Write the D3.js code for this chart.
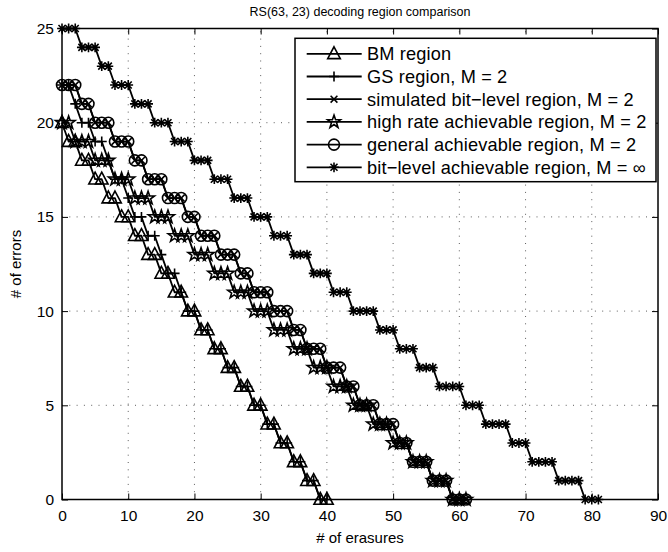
<!DOCTYPE html>
<html>
<head>
<meta charset="utf-8">
<script src="https://cdn.jsdelivr.net/npm/d3@7"></script>
<style>
  html, body { margin: 0; padding: 0; background: #fff; }
  svg text { font-family: "Liberation Sans", Arial, Helvetica, sans-serif; fill: #000; }
</style>
</head>
<body>
<svg id="chart" width="668" height="552"></svg>
<script>
// ---- data (errors at erasures = 0, 1, 2, ...) ----
const xTicks = [0, 10, 20, 30, 40, 50, 60, 70, 80, 90];
const yTicks = [0, 5, 10, 15, 20, 25];

const bmErrors = [20,19,19,18,18,17,17,16,16,15,15,14,14,13,13,12,12,11,11,10,10,9,9,8,8,7,7,6,6,5,5,4,4,3,3,2,2,1,1,0,0];
const gsErrors = [22,22,21,20,20,19,19,18,17,17,16,15,15,14,14,13,12,12,11,10,10,9,9,8,8,7,7,6,6,5,5,4,4,3,3,2,2,1,1,0,0];
const simulatedErrors = [22,22,22,21,21,20,20,20,19,19,19,18,18,17,17,17,16,16,16,15,15,14,14,14,13,13,13,12,12,11,11,11,10,10,10,9,9,8,8,8,7,7,7,6,6,5,5,5,4,4,4,3,3,2,2,2,1,1,1,0,0,0];
const highRateErrors = [20,20,19,19,19,18,18,18,17,17,17,16,16,16,15,15,15,14,14,14,13,13,13,12,12,12,11,11,11,10,10,10,9,9,9,8,8,8,7,7,7,6,6,6,5,5,5,4,4,4,3,3,3,2,2,2,1,1,1,0,0,0];
const generalErrors = [22,22,22,21,21,20,20,20,19,19,19,18,18,17,17,17,16,16,16,15,15,14,14,14,13,13,13,12,12,11,11,11,10,10,10,9,9,8,8,8,7,7,7,6,6,5,5,5,4,4,4,3,3,2,2,2,1,1,1,0,0,0];
const bitLevelErrors = [25,25,25,24,24,24,23,23,22,22,22,21,21,21,20,20,20,19,19,19,18,18,18,17,17,17,16,16,16,15,15,15,14,14,14,13,13,13,12,12,12,11,11,11,10,10,10,10,9,9,9,8,8,8,7,7,7,6,6,6,6,5,5,5,4,4,4,4,3,3,3,2,2,2,2,1,1,1,1,0,0,0];

const seriesNames = [
  "BM region",
  "GS region, M = 2",
  "simulated bit\u2212level region, M = 2",
  "high rate achievable region, M = 2",
  "general achievable region, M = 2",
  "bit\u2212level achievable region, M = \u221e"
];
const seriesValues = [bmErrors, gsErrors, simulatedErrors, highRateErrors, generalErrors, bitLevelErrors];
const seriesMarkers = ["triangle", "plus", "cross", "star", "circle", "asterisk"];

// ---- layout ----
const svg = d3.select("#chart");
const L = 62, R = 658, T = 28.5, B = 499.5;
const x = d3.scaleLinear().domain([0, 90]).range([L, R]);
const y = d3.scaleLinear().domain([0, 25]).range([B, T]);

// ---- marker paths ----
function markerPath(type) {
  const p = d3.path();
  if (type === "triangle") {
    p.moveTo(0, -7); p.lineTo(6.3, 4.8); p.lineTo(-6.3, 4.8); p.closePath();
  } else if (type === "plus") {
    p.moveTo(-5, 0); p.lineTo(5, 0); p.moveTo(0, -5); p.lineTo(0, 5);
  } else if (type === "cross") {
    p.moveTo(-3.4, -3.4); p.lineTo(3.4, 3.4); p.moveTo(-3.4, 3.4); p.lineTo(3.4, -3.4);
  } else if (type === "star") {
    const ro = 6.8, ri = 2.7;
    for (let i = 0; i < 10; i++) {
      const r = i % 2 === 0 ? ro : ri;
      const a = -Math.PI / 2 + i * Math.PI / 5;
      const px = r * Math.cos(a), py = r * Math.sin(a);
      if (i === 0) p.moveTo(px, py); else p.lineTo(px, py);
    }
    p.closePath();
  } else if (type === "circle") {
    p.moveTo(5.5, 0); p.arc(0, 0, 5.5, 0, 2 * Math.PI);
  } else if (type === "asterisk") {
    const r = 4.9, d = 3.5;
    p.moveTo(-r, 0); p.lineTo(r, 0); p.moveTo(0, -r); p.lineTo(0, r);
    p.moveTo(-d, -d); p.lineTo(d, d); p.moveTo(-d, d); p.lineTo(d, -d);
  }
  return p.toString();
}

// ---- grid ----
const grid = svg.append("g").attr("stroke", "#333").attr("stroke-width", 0.8)
  .attr("stroke-dasharray", "1,6.3");
xTicks.slice(1, -1).forEach(t => {
  grid.append("line").attr("x1", x(t)).attr("x2", x(t)).attr("y1", B).attr("y2", T);
});
yTicks.slice(1, -1).forEach(t => {
  grid.append("line").attr("x1", L).attr("x2", R).attr("y1", y(t)).attr("y2", y(t));
});

// ---- axes (MATLAB style: inward ticks all sides) ----
const tickLen = 6;
const axB = svg.append("g").attr("transform", `translate(0,${B})`)
  .call(d3.axisBottom(x).tickValues(xTicks).tickSizeInner(-tickLen).tickSizeOuter(0).tickPadding(10));
const axT = svg.append("g").attr("transform", `translate(0,${T})`)
  .call(d3.axisTop(x).tickValues(xTicks).tickSizeInner(-tickLen).tickSizeOuter(0).tickFormat(""));
const axL = svg.append("g").attr("transform", `translate(${L},0)`)
  .call(d3.axisLeft(y).tickValues(yTicks).tickSizeInner(-tickLen).tickSizeOuter(0).tickPadding(8));
const axR = svg.append("g").attr("transform", `translate(${R},0)`)
  .call(d3.axisRight(y).tickValues(yTicks).tickSizeInner(-tickLen).tickSizeOuter(0).tickFormat(""));
[axB, axT, axL, axR].forEach(g => {
  g.select(".domain").remove();
  g.selectAll("line").attr("stroke", "#000").attr("stroke-width", 1);
  g.selectAll("text").attr("font-size", 15.5).attr("font-family", "Liberation Sans, Arial, sans-serif").attr("fill", "#000");
});
axB.selectAll("text").attr("dy", "0.71em");

// ---- series ----
const line = d3.line().x((d, i) => x(i)).y(d => y(d));
seriesValues.forEach((vals, k) => {
  const g = svg.append("g");
  g.append("path").datum(vals).attr("d", line)
    .attr("fill", "none").attr("stroke", "#000").attr("stroke-width", 1.8).attr("stroke-linejoin", "round");
  const mp = markerPath(seriesMarkers[k]);
  g.selectAll("path.m").data(vals).enter().append("path").attr("class", "m")
    .attr("d", mp)
    .attr("transform", (d, i) => `translate(${x(i)},${y(d)})`)
    .attr("fill", "none").attr("stroke", "#000").attr("stroke-width", 1.6);
});

// ---- box ----
svg.append("rect").attr("x", L).attr("y", T).attr("width", R - L).attr("height", B - T)
  .attr("fill", "none").attr("stroke", "#000").attr("stroke-width", 1.5);

// ---- labels ----
svg.append("text").attr("x", (L + R) / 2).attr("y", 16).attr("text-anchor", "middle")
  .attr("font-size", 12.5).text("RS(63, 23) decoding region comparison");
svg.append("text").attr("x", (L + R) / 2).attr("y", 543).attr("text-anchor", "middle")
  .attr("font-size", 15).text("# of erasures");
svg.append("text").attr("transform", `translate(21,${(T + B) / 2}) rotate(-90)`)
  .attr("text-anchor", "middle").attr("font-size", 15).text("# of errors");

// ---- legend ----
const lg = svg.append("g");
const lgX = 295, lgY = 38.3, lgW = 361, lgH = 143.4, rowH = 22.7;
lg.append("rect").attr("x", lgX).attr("y", lgY).attr("width", lgW).attr("height", lgH)
  .attr("fill", "#fff").attr("stroke", "#000").attr("stroke-width", 1.5);
seriesNames.forEach((name, k) => {
  const cy = lgY + 15.5 + k * rowH;
  lg.append("line").attr("x1", 306.7).attr("x2", 361.7).attr("y1", cy).attr("y2", cy)
    .attr("stroke", "#000").attr("stroke-width", 1.8);
  lg.append("path").attr("d", markerPath(seriesMarkers[k]))
    .attr("transform", `translate(334,${cy})`)
    .attr("fill", "none").attr("stroke", "#000").attr("stroke-width", 1.6);
  lg.append("text").attr("x", 367).attr("y", cy).attr("dy", "0.35em")
    .attr("font-size", 18.2).attr("letter-spacing", "0.15px").text(name);
});
</script>
</body>
</html>
